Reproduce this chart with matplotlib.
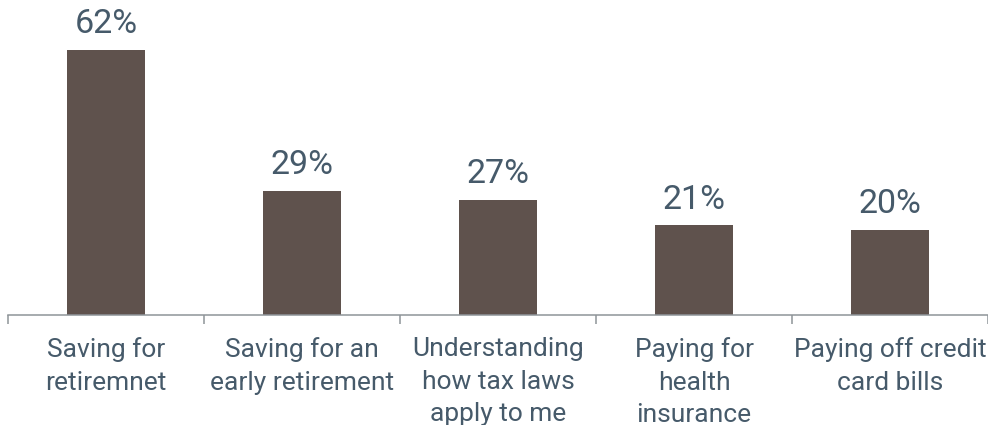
import matplotlib.pyplot as plt

categories = [
    "Saving for\nretiremnet",
    "Saving for an\nearly retirement",
    "Understanding\nhow tax laws\napply to me",
    "Paying for\nhealth\ninsurance",
    "Paying off credit\ncard bills",
]
values = [62, 29, 27, 21, 20]

BAR_COLOR = "#5f524d"
TEXT_COLOR = "#465a6a"
AXIS_COLOR = "#8e9499"

plt.rcParams["font.family"] = ["Roboto", "DejaVu Sans"]

fig = plt.figure(figsize=(9.88, 4.25), dpi=100)
ax = fig.add_axes([8 / 988, 110 / 425, 980 / 988, 315 / 425])

xs = list(range(len(categories)))
bars = ax.bar(xs, values, width=0.4, color=BAR_COLOR)
for x, v in zip(xs, values):
    ax.annotate(f"{v}%", (x, v), xytext=(0, 7), textcoords="offset points",
                ha="center", va="bottom", fontsize=24.5, color=TEXT_COLOR)

ax.set_xlim(-0.5, len(categories) - 0.5)
ax.set_ylim(0, 73.7)

ax.set_xticks(xs)
ax.set_xticklabels(categories, fontsize=19, color=TEXT_COLOR, linespacing=1.45)
ax.tick_params(axis="x", which="major", length=0, pad=16)
ax.set_xticks([x - 0.5 for x in range(len(categories) + 1)], minor=True)
ax.tick_params(axis="x", which="minor", length=6.5, width=1.1, color=AXIS_COLOR)
ax.set_yticks([])

for side in ("left", "top", "right"):
    ax.spines[side].set_visible(False)
ax.spines["bottom"].set_color(AXIS_COLOR)
ax.spines["bottom"].set_linewidth(1.1)

fig.savefig("out.png", dpi=100)
